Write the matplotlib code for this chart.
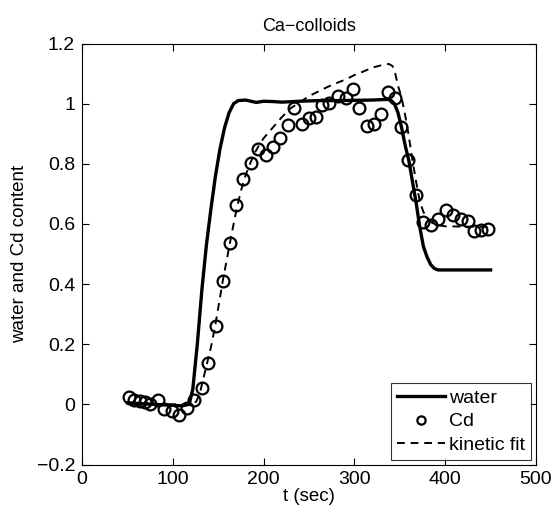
import matplotlib
matplotlib.use("Agg")
import matplotlib.pyplot as plt
import numpy as np

plt.rcParams['font.family'] = ['Liberation Sans', 'DejaVu Sans']

# Cd measurements (circles)
cd_t = [51.8, 57.6, 63.9, 69.4, 74.9, 84.0, 90.6, 98.8, 107.2, 115.3, 123.7, 132.5,
        139.1, 147.2, 155.0, 163.0, 169.3, 177.0, 186.1, 194.2, 202.3, 210.7, 218.1,
        226.5, 233.8, 242.0, 250.0, 257.4, 264.6, 272.0, 281.6, 290.4, 298.1, 305.4,
        314.2, 321.9, 329.0, 337.3, 344.7, 351.3, 359.4, 367.8, 375.9, 384.4, 392.4,
        400.6, 408.9, 417.4, 425.4, 432.0, 439.4, 447.5]
cd_v = [0.026, 0.015, 0.011, 0.007, 0.000, 0.015, -0.016, -0.021, -0.035, -0.011, 0.015, 0.054,
        0.139, 0.262, 0.411, 0.538, 0.663, 0.750, 0.802, 0.849, 0.829, 0.857, 0.887,
        0.929, 0.985, 0.931, 0.951, 0.957, 0.996, 1.001, 1.027, 1.018, 1.049, 0.985,
        0.924, 0.931, 0.966, 1.038, 1.020, 0.922, 0.813, 0.696, 0.608, 0.597, 0.616,
        0.647, 0.630, 0.616, 0.611, 0.578, 0.580, 0.582]

# water tracer (solid line)
water_t = [50, 80, 110, 118, 122, 127, 132, 137, 142, 147, 152, 157, 162, 167, 172, 180,
           192, 200, 210, 220, 240, 260, 280, 300, 320, 336, 340, 344, 348, 352, 356, 360,
           364, 368, 372, 376, 380, 384, 388, 392, 400, 450]
water_v = [0.005, 0.0, -0.005, 0.0, 0.05, 0.2, 0.38, 0.53, 0.65, 0.76, 0.85, 0.92, 0.97, 1.0,
           1.01, 1.012, 1.004, 1.008, 1.007, 1.005, 1.008, 1.01, 1.01, 1.011, 1.012, 1.014,
           1.012, 1.0, 0.97, 0.92, 0.86, 0.81, 0.74, 0.67, 0.59, 0.525, 0.49, 0.465, 0.452,
           0.447, 0.447, 0.447]

# kinetic fit (dashed line)
fit_t = [50, 115, 122, 126, 130, 134, 138, 142, 146, 150, 155, 160, 165, 170, 175, 180,
         185, 190, 195, 200, 210, 220, 230, 240, 250, 260, 270, 280, 290, 300, 310, 320,
         330, 338, 342, 345, 348, 352, 356, 360, 364, 368, 372, 376, 380, 385, 390, 400, 450]
fit_v = [0.0, 0.0, 0.0, 0.01, 0.04, 0.09, 0.14, 0.19, 0.25, 0.32, 0.41, 0.49, 0.57, 0.645,
         0.71, 0.76, 0.80, 0.835, 0.862, 0.885, 0.92, 0.955, 0.985, 1.005, 1.025, 1.04,
         1.055, 1.068, 1.08, 1.095, 1.107, 1.12, 1.128, 1.132, 1.125, 1.10, 1.06, 1.02,
         0.96, 0.89, 0.81, 0.74, 0.675, 0.64, 0.62, 0.605, 0.597, 0.592, 0.59]

xticks = [0, 100, 200, 300, 400, 500]
yticks = [-0.2, 0, 0.2, 0.4, 0.6, 0.8, 1.0, 1.2]
ytick_labels = ['\u22120.2', '0', '0.2', '0.4', '0.6', '0.8', '1', '1.2']

fig = plt.figure(figsize=(5.55, 5.14), dpi=100)
ax = fig.add_axes([82/555, 1 - 464.5/514, 454/555, 421/514])

ax.plot(water_t, water_v, color='black', lw=2.4, label='water', zorder=3)
ax.plot(cd_t, cd_v, linestyle='none', marker='o', markersize=8.5, markerfacecolor='none',
        markeredgecolor='black', markeredgewidth=1.6, label='Cd', zorder=4)
ax.plot(fit_t, fit_v, color='black', lw=1.4, linestyle=(0, (4, 3)), label='kinetic fit', zorder=2)

ax.set_xlim(0, 500)
ax.set_ylim(-0.2, 1.2)
ax.set_xticks(xticks)
ax.set_xticklabels([str(x) for x in xticks])
ax.set_yticks(yticks)
ax.set_yticklabels(ytick_labels)
ax.tick_params(direction='in', top=True, right=True, labelsize=14, length=5, width=0.8, pad=5)
for s in ax.spines.values():
    s.set_linewidth(0.8)

ax.set_xlabel('t (sec)', fontsize=13.5, labelpad=0)
ax.set_ylabel('water and Cd content', fontsize=13.5, labelpad=6)
ax.set_title('Ca\u2212colloids', fontsize=13, pad=9)

leg = ax.legend(loc='lower right', fontsize=14, frameon=True, fancybox=False,
                edgecolor='black', borderaxespad=0.25, handlelength=2.5, markerscale=0.7,
                handletextpad=0.2, borderpad=0.3, labelspacing=0.3)
leg.get_frame().set_linewidth(0.8)

fig.savefig('out.png', dpi=100, facecolor='white')
